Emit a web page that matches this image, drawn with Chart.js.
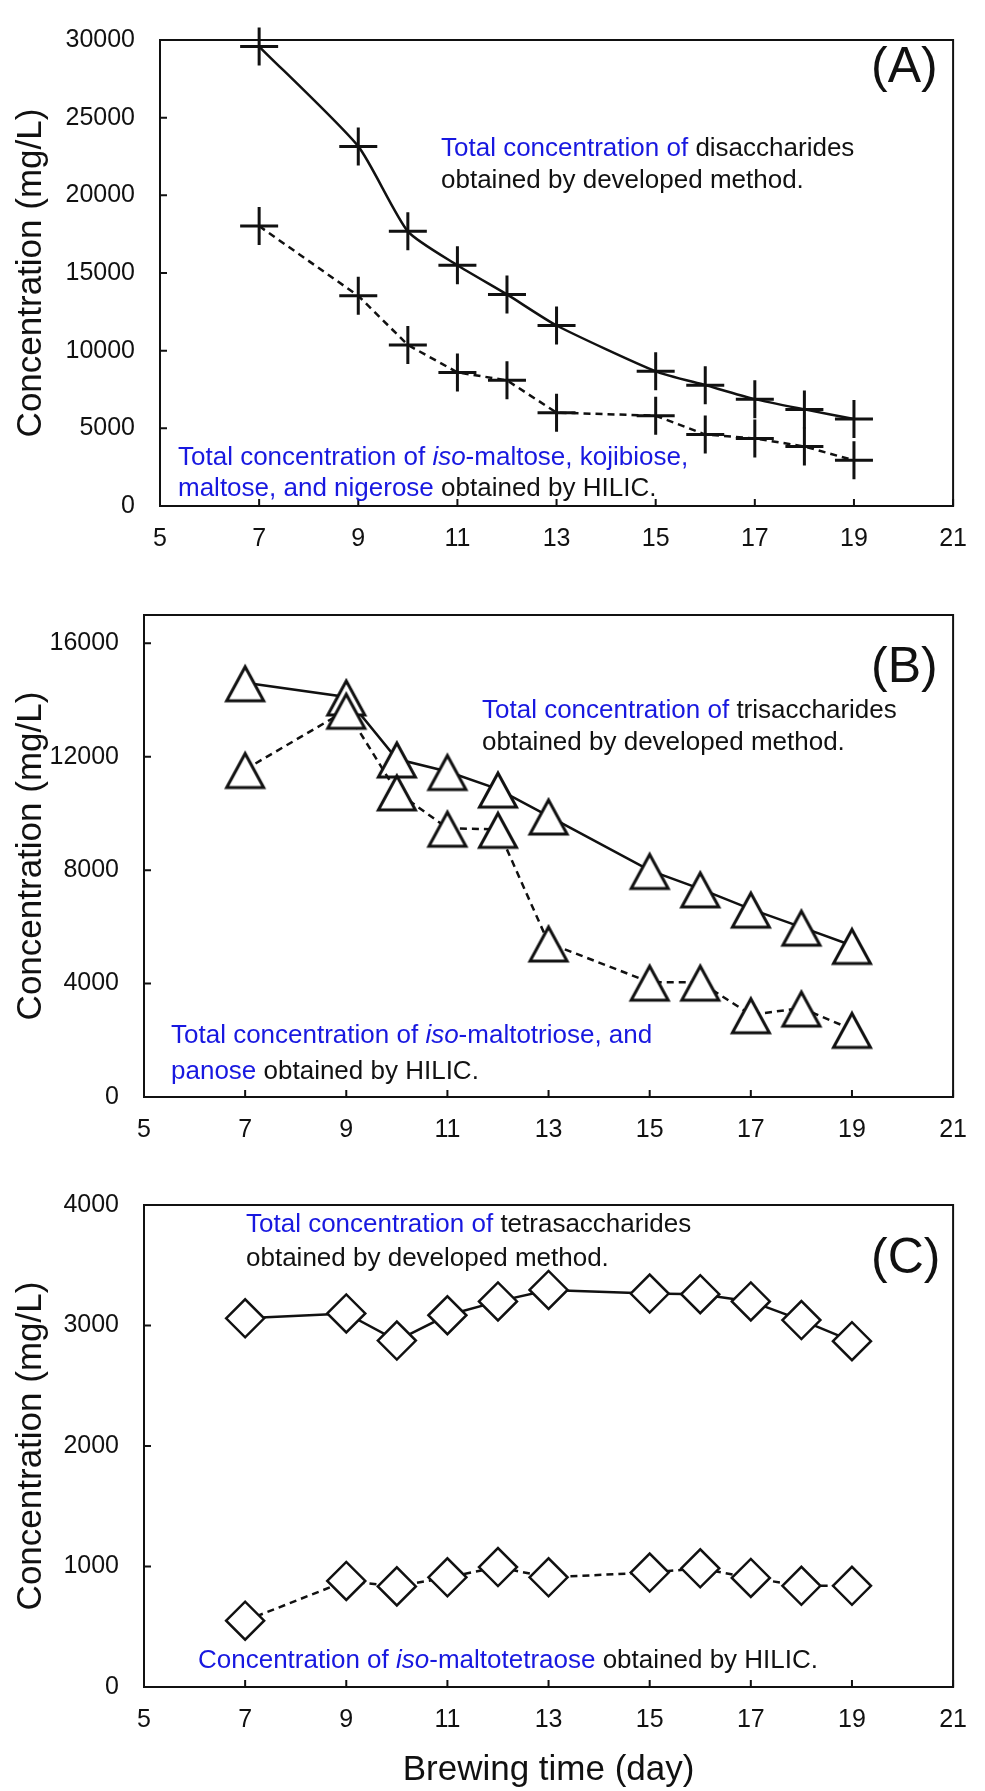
<!DOCTYPE html>
<html><head><meta charset="utf-8">
<script src="https://cdn.jsdelivr.net/npm/chart.js@4/dist/chart.umd.min.js"></script>
<style>
html,body{margin:0;padding:0;background:#fff;}
#wrap{position:relative;width:985px;height:1791px;background:#fff;}
canvas{position:absolute;left:0;}
</style></head><body>
<div id="wrap">
<canvas id="cA" width="985" height="560" style="top:0px"></canvas>
<canvas id="cB" width="985" height="580" style="top:560px"></canvas>
<canvas id="cC" width="985" height="651" style="top:1140px"></canvas>
</div>
<script>
// ---------- data ----------
const days = [7, 9, 10, 11, 12, 13, 15, 16, 17, 18, 19];
const xTicks = [5, 7, 9, 11, 13, 15, 17, 19, 21];

const disaccharidesDeveloped = [29580, 23150, 17680, 15500, 13620, 11620, 8670, 7780, 6880, 6220, 5600];
const disaccharidesHILIC     = [18020, 13530, 10370, 8600, 8090, 6010, 5810, 4600, 4350, 3830, 2940];

const trisaccharidesDeveloped = [14610, 14110, 11920, 11480, 10860, 9910, 7990, 7340, 6625, 5990, 5345];
const trisaccharidesHILIC     = [11550, 13640, 10760, 9480, 9440, 5430, 4050, 4050, 2900, 3135, 2385];

const tetrasaccharidesDeveloped = [3060, 3100, 2875, 3085, 3200, 3295, 3265, 3260, 3200, 3045, 2870];
const tetrasaccharidesHILIC     = [550, 880, 835, 910, 995, 910, 950, 985, 905, 840, 840];

const yTicksA = [0, 5000, 10000, 15000, 20000, 25000, 30000];
const yTicksB = [0, 4000, 8000, 12000, 16000];
const yTicksC = [0, 1000, 2000, 3000, 4000];

const yTitle = 'Concentration (mg/L)';
const xTitle = 'Brewing time (day)';

// ---------- styling ----------
const FONT = "'Liberation Sans', Arial, sans-serif";
const BLUE = '#1818e0';
const BLACK = '#111111';

function triangleImage() {
  const c = document.createElement('canvas');
  c.width = 44; c.height = 44;
  const g = c.getContext('2d');
  g.beginPath();
  g.moveTo(22, 6); g.lineTo(40.5, 40); g.lineTo(3.5, 40); g.closePath();
  g.fillStyle = '#fff'; g.fill();
  g.lineWidth = 3; g.strokeStyle = BLACK; g.lineJoin = 'miter';
  g.stroke();
  return c;
}
const TRI = triangleImage();

function drawRich(ctx, x, y, parts, size) {
  let cx = x;
  parts.forEach(([text, st]) => {
    ctx.font = (st.indexOf('i') >= 0 ? 'italic ' : '') + size + 'px ' + FONT;
    ctx.fillStyle = st.indexOf('b') >= 0 ? BLUE : BLACK;
    ctx.textBaseline = 'alphabetic';
    ctx.textAlign = 'left';
    ctx.fillText(text, cx, y);
    cx += ctx.measureText(text).width;
  });
}

const framePlugin = {
  id: 'frame',
  beforeDatasetsDraw(chart, args, opts) {
    const {ctx, chartArea: a, scales} = chart;
    ctx.save();
    ctx.strokeStyle = BLACK;
    ctx.lineWidth = 2;
    ctx.setLineDash([]);
    ctx.strokeRect(a.left, a.top, a.right - a.left, a.bottom - a.top);
    ctx.beginPath();
    scales.x.ticks.forEach(t => {
      const px = scales.x.getPixelForValue(t.value);
      ctx.moveTo(px, a.bottom); ctx.lineTo(px, a.bottom - 7);
    });
    scales.y.ticks.forEach(t => {
      const py = scales.y.getPixelForValue(t.value);
      ctx.moveTo(a.left, py); ctx.lineTo(a.left + 7, py);
    });
    ctx.stroke();
    (opts.notes || []).forEach(n => drawRich(ctx, n.x, n.y, n.parts, 26));
    if (opts.label) {
      ctx.font = '50px ' + FONT;
      ctx.fillStyle = BLACK;
      ctx.textAlign = 'left';
      ctx.textBaseline = 'alphabetic';
      ctx.fillText(opts.label, opts.labelX, opts.labelY);
    }
    ctx.restore();
  }
};

function series(values) { return days.map((d, i) => ({x: d, y: values[i]})); }

function makePanel(id, cfg) {
  const common = {
    borderColor: BLACK, borderWidth: 2.5,
    pointStyle: cfg.marker, pointRadius: cfg.radius, pointHoverRadius: cfg.radius,
    pointBorderWidth: cfg.pointBorder, pointBackgroundColor: '#fff', pointBorderColor: BLACK,
    clip: false, fill: false
  };
  new Chart(document.getElementById(id), {
    type: 'line',
    data: {
      datasets: [
        Object.assign({label: 'HILIC', data: series(cfg.hilic), borderDash: [7, 5], tension: 0}, common),
        Object.assign({label: 'Developed method', data: series(cfg.dev), borderDash: [], tension: cfg.smooth ? 0.2 : 0}, common)
      ]
    },
    options: {
      responsive: false, animation: false, devicePixelRatio: 1,
      layout: {padding: {left: 0, right: 15, top: cfg.top, bottom: 0}},
      plugins: {
        legend: {display: false}, tooltip: {enabled: false},
        frame: {notes: cfg.notes, label: cfg.label, labelX: 871, labelY: cfg.labelY}
      },
      scales: {
        x: {
          type: 'linear', min: 5, max: 21,
          afterBuildTicks: s => { s.ticks = xTicks.map(v => ({value: v})); },
          afterFit: s => { s.height = cfg.xh; },
          grid: {display: false, drawTicks: false},
          border: {display: false},
          ticks: {font: {family: FONT, size: 25}, color: BLACK, padding: 18, maxRotation: 0, autoSkip: false,
                  callback: v => String(v)},
          title: cfg.xTitle ? {display: true, text: xTitle, color: BLACK,
                  font: {family: FONT, size: 35}, padding: {top: 0, bottom: 0}} : {display: false}
        },
        y: {
          type: 'linear', min: 0, max: cfg.ymax,
          afterBuildTicks: s => { s.ticks = cfg.yTicks.map(v => ({value: v})); },
          afterFit: s => { s.width = cfg.yw; },
          grid: {display: false, drawTicks: false},
          border: {display: false},
          ticks: {font: {family: FONT, size: 25}, color: BLACK, padding: 25, autoSkip: false,
                  callback: v => String(v)},
          title: {display: true, text: yTitle, color: BLACK,
                  font: {family: FONT, size: 35}, padding: {top: 10, bottom: 0}}
        }
      }
    },
    plugins: [framePlugin]
  });
}

makePanel('cA', {
  dev: disaccharidesDeveloped, hilic: disaccharidesHILIC, smooth: true,
  marker: 'cross', radius: 19, pointBorder: 3,
  top: 25, xh: 54, yw: 160, ymax: 30000, yTicks: yTicksA,
  label: '(A)', labelY: 82,
  notes: [
    {x: 441, y: 156, parts: [['Total concentration of ', 'b'], ['disaccharides', 'k']]},
    {x: 441, y: 188, parts: [['obtained by developed method.', 'k']]},
    {x: 178, y: 465, parts: [['Total concentration of ', 'b'], ['iso', 'bi'], ['-maltose, kojibiose,', 'b']]},
    {x: 178, y: 496, parts: [['maltose, and nigerose', 'b'], [' obtained by HILIC.', 'k']]}
  ]
});

makePanel('cB', {
  dev: trisaccharidesDeveloped, hilic: trisaccharidesHILIC, smooth: false,
  marker: TRI, radius: 19, pointBorder: 3,
  top: 55, xh: 43, yw: 144, ymax: 17000, yTicks: yTicksB,
  label: '(B)', labelY: 122,
  notes: [
    {x: 482, y: 158, parts: [['Total concentration of ', 'b'], ['trisaccharides', 'k']]},
    {x: 482, y: 190, parts: [['obtained by developed method.', 'k']]},
    {x: 171, y: 483, parts: [['Total concentration of ', 'b'], ['iso', 'bi'], ['-maltotriose, and', 'b']]},
    {x: 171, y: 519, parts: [['panose', 'b'], [' obtained by HILIC.', 'k']]}
  ]
});

makePanel('cC', {
  dev: tetrasaccharidesDeveloped, hilic: tetrasaccharidesHILIC, smooth: false,
  marker: 'rectRot', radius: 19, pointBorder: 2.5,
  top: 65, xh: 104, yw: 144, ymax: 4000, yTicks: yTicksC, xTitle: true,
  label: '(C)', labelY: 133,
  notes: [
    {x: 246, y: 92, parts: [['Total concentration of ', 'b'], ['tetrasaccharides', 'k']]},
    {x: 246, y: 126, parts: [['obtained by developed method.', 'k']]},
    {x: 198, y: 528, parts: [['Concentration of ', 'b'], ['iso', 'bi'], ['-maltotetraose', 'b'], [' obtained by HILIC.', 'k']]}
  ]
});
</script>
</body></html>
